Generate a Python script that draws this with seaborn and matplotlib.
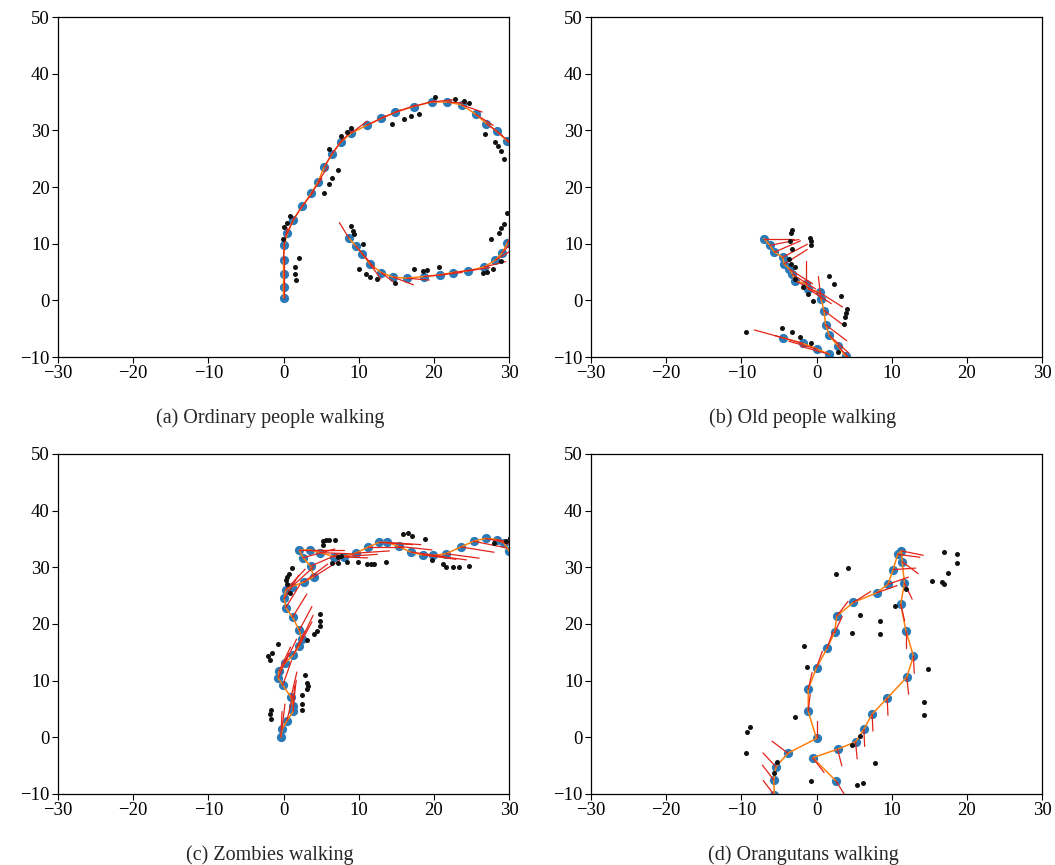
import numpy as np
import pandas as pd
import matplotlib
matplotlib.use("Agg")
import matplotlib.pyplot as plt
import seaborn as sns

# (a) ordinary people: estimated track, heading (deg), noisy observations
a_x = [0.0, 0.0, 0.0, 0.0, 0.1, 0.5, 1.3, 2.5, 3.7, 4.6, 5.4, 6.5, 7.6, 9.0, 11.1, 13.0, 14.9, 17.3, 19.7, 21.8,
       23.7, 25.6, 27.0, 28.4, 29.7,
       29.8, 29.1, 28.2, 26.7, 24.5, 22.5, 20.8, 18.7, 16.4, 14.6, 13.0, 11.5, 10.5, 9.6, 8.7]
a_y = [0.5, 2.4, 4.6, 7.1, 9.8, 11.8, 14.2, 16.6, 18.9, 20.9, 23.5, 25.9, 27.9, 29.5, 30.9, 32.1, 33.2, 34.2, 35.0, 35.0,
       34.5, 32.8, 31.2, 29.8, 28.2,
       10.2, 8.4, 7.1, 5.9, 5.2, 4.9, 4.5, 4.2, 3.9, 4.1, 4.9, 6.4, 8.2, 9.6, 11.0]
a_seg = [0] * 25 + [1] * 15
a_head = [90, 90, 90, 88, 82, 72, 64, 60, 62, 64, 66, 62, 55, 45, 33, 30, 25, 20, 8, -5,
          -25, -40, -45, -48, -50,
          70, 55, 39, 18, 11, 10, 8, 7, -6, -27, -45, -61, -57, -57, 115]
a_obs_x = [20.2, 22.8, 24.0, 24.7, 18.0, 16.9, 16.0, 14.5, 9.0, 8.4, 7.6, 6.1, 7.3, 6.5, 6.1, 5.4,
           26.8, 28.1, 28.6, 29.0, 29.3, 0.8, 0.5, 0.1, -0.1, 2.1, 1.5, 1.5, 1.6,
           29.7, 29.3, 29.0, 28.7, 27.6, 9.0, 9.3, 9.4, 10.6, 10.0, 11.0, 11.5, 12.5, 14.9,
           17.3, 18.5, 19.1, 20.7, 26.5, 27.1, 27.9, 28.9]
a_obs_y = [35.8, 35.6, 35.2, 34.9, 32.8, 32.5, 32.0, 31.2, 30.5, 29.7, 29.0, 26.7, 23.0, 21.6, 20.5, 18.9,
           29.3, 27.9, 27.3, 26.4, 24.9, 14.9, 13.7, 12.9, 10.9, 7.4, 5.8, 4.6, 3.6,
           15.4, 13.5, 12.7, 11.8, 10.8, 13.1, 12.3, 11.7, 9.9, 5.5, 4.6, 4.2, 3.7, 3.0,
           5.5, 5.2, 5.3, 5.8, 4.8, 5.0, 5.6, 6.9]

# (b) old people
b_x = [-7.0, -6.2, -5.6, -4.5, -4.3, -3.6, -3.2, -2.9, -1.4, -1.1, 0.4, 0.6, 1.0, 1.2, 1.7, 2.8, 3.9,
       1.7, 0.1, -1.8, -4.5]
b_y = [10.9, 9.7, 8.5, 7.6, 6.4, 5.5, 4.6, 3.5, 2.9, 2.0, 1.4, 0.2, -1.8, -4.3, -6.2, -8.0, -9.9,
       -9.5, -8.6, -7.6, -6.6]
b_seg = [0] * 17 + [1] * 4
b_head = [0, 15, 30, 35, 40, -40, -40, -35, 90, -40, -40, 95, -45, -45, -50, -55, -55,
          160, 160, 160, 160]
b_obs_x = [-9.4, -4.6, -3.2, -2.2, -0.7, 2.9, 3.7, 3.8, 3.9, 4.1, 3.2, 2.3, 1.7, -0.4, -1.1, -1.8, -2.9,
           -2.8, -3.4, -3.7, -3.2, -3.5, -3.4, -3.2, -0.9, -0.7, -0.7]
b_obs_y = [-5.5, -4.8, -5.6, -6.4, -7.6, -9.2, -4.1, -3.0, -2.3, -1.5, 0.8, 2.8, 4.3, -0.2, 1.2, 2.3, 3.8,
           5.8, 6.5, 7.3, 9.1, 10.4, 11.8, 12.4, 11.0, 10.4, 9.8]

# (c) zombies
c_x = [-0.35, -0.2, 0.45, 1.3, 1.3, 1.0, -0.1, -0.7, -0.6, 0.2, 1.3, 2.1, 2.4, 2.1, 1.2, 0.3, 0.1, 0.3,
       1.1, 2.7, 4.0, 3.6, 2.6, 2.1, 3.5, 4.9, 6.7, 8.0, 9.6, 11.3, 12.7, 13.8, 15.3, 16.9, 18.5, 19.9,
       21.6, 23.6, 25.3, 26.9, 28.4, 29.3, 30.0]
c_y = [0.05, 1.4, 2.9, 4.6, 5.6, 7.1, 9.2, 10.5, 11.7, 13.1, 14.5, 16.2, 17.3, 18.9, 21.2, 22.9, 24.5, 26.0,
       26.6, 27.4, 28.3, 30.2, 31.7, 33.0, 33.1, 32.6, 31.9, 31.9, 32.5, 33.6, 34.4, 34.4, 33.7, 32.7, 32.2,
       32.1, 32.4, 33.6, 34.6, 35.1, 34.9, 34.3, 32.9]
c_seg = [0] * 43
c_head = [88, 85, 80, 88, 85, 80, 75, 72, 70, 70, 70, 68, 70, 68, 65, 65, 65, 55, 50, 45, 40, 30, 20,
          0, 0, -3, -3, 5, 5, 0, -5, -5, -8, -10, -10, -10, -10, -12, -15, -15, -15, -15, -15]
c_obs_x = [15.9, 16.5, 17.1, 18.8, 5.3, 5.6, 6.0, 6.9, 5.3, 7.6, 7.2, 6.4, 7.3, 8.5, 9.9, 11.1, 11.6, 12.1,
           13.6, 19.8, 21.2, 21.6, 22.6, 23.3, 24.7, 28.0, 29.6, 30.1, 1.1, 0.7, 0.45, 0.3, 0.5, 0.9,
           4.8, 4.8, 4.8, 4.5, 4.1, 3.1, -0.7, -1.5, -2.0, -1.8, 2.9, 3.1, 3.2, 3.1, 2.5, 2.4, 2.4,
           -1.7, -1.8, -1.7]
c_obs_y = [35.8, 36.1, 35.6, 35.0, 34.6, 34.8, 34.8, 34.8, 34.0, 32.0, 31.9, 30.8, 30.8, 31.0, 30.9, 30.5,
           30.5, 30.6, 30.9, 31.3, 30.6, 30.1, 30.1, 30.1, 30.2, 34.3, 34.6, 35.2, 29.8, 28.9, 28.3, 27.7,
           27.0, 25.4, 21.7, 20.5, 19.7, 18.7, 18.2, 17.2, 16.5, 14.8, 14.3, 13.6, 11.0, 9.6, 9.0, 8.5,
           7.4, 5.9, 4.8, 4.8, 4.1, 3.2]

# (d) orangutans
d_x = [-5.6, -5.7, -5.4, -3.8, 0.0, -1.1, -1.1, 0.0, 1.4, 2.4, 2.7, 4.9, 8.0, 9.5, 10.2, 10.8, 11.3, 11.4,
       11.7, 11.2, 11.9, 12.9, 12.0, 9.4, 7.4, 6.3, 5.2, 2.8, -0.5, 2.6]
d_y = [-10.2, -7.5, -5.2, -2.8, -0.2, 4.6, 8.5, 12.3, 15.7, 18.5, 21.4, 23.8, 25.5, 27.0, 29.6, 32.3, 32.9,
       31.0, 27.2, 23.5, 18.8, 14.3, 10.6, 6.9, 4.1, 1.4, -0.8, -2.1, -3.6, -7.7]
d_seg = [0] * 30
d_head = [120, 120, 125, 135, 90, 85, 80, 75, 75, 70, 60, 40, 25, 25, 5, -10, -15, -45, -70, -80,
          -90, -88, -85, -88, -88, -88, -86, -79, -60, -65]
d_obs_x = [17.0, 18.7, 18.7, 17.5, 15.3, 16.7, 17.0, 11.9, 10.4, 2.6, 4.2, 5.8, 8.5, 8.4, 4.7, -1.6, -1.3,
           14.8, 14.3, 14.3, -2.8, -8.8, -9.2, -9.4, -5.3, -5.7, 5.8, 4.7, 7.8, -0.7, 5.4, 6.2]
d_obs_y = [32.7, 32.4, 30.8, 29.0, 27.6, 27.4, 27.0, 26.2, 23.1, 28.9, 29.8, 21.5, 20.6, 18.3, 18.4, 16.1,
           12.4, 12.0, 6.2, 4.0, 3.6, 1.9, 1.0, -2.7, -4.3, -6.3, 0.2, -1.4, -4.6, -7.7, -8.5, -8.0]

captions = ["(a) Ordinary people walking", "(b) Old people walking",
            "(c) Zombies walking", "(d) Orangutans walking"]

sns.set_style("ticks")
plt.rcParams["font.family"] = ["Liberation Serif", "DejaVu Serif"]
plt.rcParams["axes.edgecolor"] = "black"
plt.rcParams["axes.linewidth"] = 0.9
plt.rcParams["xtick.color"] = "black"
plt.rcParams["ytick.color"] = "black"


def heading_lines(xs, ys, hs, length):
    rows = []
    for i, (x, y, h) in enumerate(zip(xs, ys, hs)):
        t = np.radians(h)
        rows.append((i, x, y))
        rows.append((i, x + length * np.cos(t), y + length * np.sin(t)))
    return pd.DataFrame(rows, columns=["seg", "x", "y"])


def draw_panel(ax, xs, ys, seg, heads, length, ox, oy):
    path = pd.DataFrame({"x": xs, "y": ys, "seg": seg})
    sns.scatterplot(data=path, x="x", y="y", color="#2a7ab8", s=44, linewidth=0, ax=ax, zorder=2)
    sns.lineplot(data=path, x="x", y="y", units="seg", estimator=None, sort=False,
                 color="#ff7f0e", lw=1.1, ax=ax, zorder=3)
    sns.lineplot(data=heading_lines(xs, ys, heads, length), x="x", y="y", units="seg",
                 estimator=None, sort=False, color="#e2231a", lw=0.9, ax=ax, zorder=4)
    sns.scatterplot(x=ox, y=oy, color="#111111", s=13, linewidth=0, ax=ax, zorder=5)
    ax.set_xlim(-30, 30)
    ax.set_ylim(-10, 50)
    ax.set_xticks(range(-30, 31, 10))
    ax.set_yticks(range(-10, 51, 10))
    ax.set_xlabel("")
    ax.set_ylabel("")
    ax.tick_params(direction="out", length=4, width=0.8, labelsize=13.5, pad=2)


W, H = 1055, 865
fig = plt.figure(figsize=(W / 100, H / 100), dpi=100)
boxes = [(58, 17), (591, 17), (58, 454), (591, 454)]
axes = [fig.add_axes([l / W, 1 - (t + 340) / H, 451 / W, 340 / H]) for l, t in boxes]

draw_panel(axes[0], a_x, a_y, a_seg, a_head, 3.0, a_obs_x, a_obs_y)
draw_panel(axes[1], b_x, b_y, b_seg, b_head, 4.0, b_obs_x, b_obs_y)
draw_panel(axes[2], c_x, c_y, c_seg, c_head, 4.5, c_obs_x, c_obs_y)
draw_panel(axes[3], d_x, d_y, d_seg, d_head, 3.0, d_obs_x, d_obs_y)

# captions sit centred under each sub-figure (axes plus tick labels)
for (l, t), cap in zip(boxes, captions):
    fig.text((l + 212) / W, 1 - (t + 401) / H, cap, ha="center", va="center", fontsize=14.5)

fig.savefig("out.png", dpi=100)
